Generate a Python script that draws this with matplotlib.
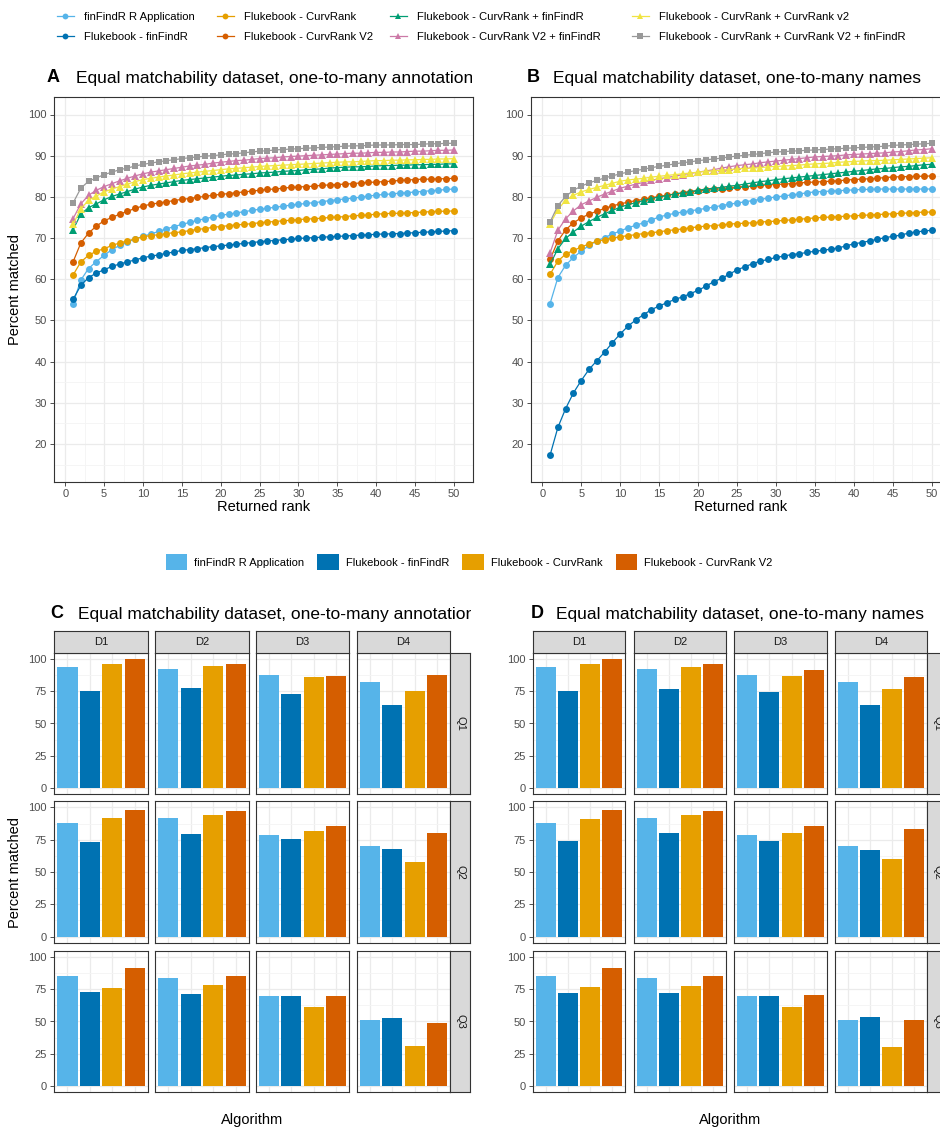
import matplotlib
matplotlib.use("Agg")
import matplotlib.pyplot as plt
from matplotlib.lines import Line2D
from matplotlib.patches import Rectangle
from matplotlib.transforms import Bbox, TransformedBbox
import numpy as np

plt.rcParams['font.family'] = ['Liberation Sans', 'DejaVu Sans']

# ---------------- data ----------------
series_names = ["finFindR R Application", "Flukebook - finFindR",
                "Flukebook - CurvRank", "Flukebook - CurvRank V2",
                "Flukebook - CurvRank + finFindR", "Flukebook - CurvRank V2 + finFindR",
                "Flukebook - CurvRank + CurvRank v2", "Flukebook - CurvRank + CurvRank V2 + finFindR"]
series_colors = ["#56B4E9", "#0072B2", "#E69F00", "#D55E00",
                 "#009E73", "#CC79A7", "#F0E442", "#999999"]
series_markers = ["o", "o", "o", "o", "^", "^", "^", "s"]

ranks = list(range(1, 51))

# Panel A: one-to-many annotations
a_finfindr_app = [54.1, 59.8, 62.6, 64.3, 65.8, 67.2, 68.2, 69.0, 69.8, 70.4, 71.0, 71.6, 72.2, 72.8, 73.3, 73.8, 74.3, 74.7, 75.1, 75.5,
                  75.8, 76.1, 76.4, 76.7, 77.0, 77.2, 77.5, 77.7, 78.0, 78.2, 78.4, 78.6, 78.8, 79.1, 79.3, 79.5, 79.7, 79.9, 80.2, 80.4,
                  80.6, 80.7, 80.9, 81.0, 81.2, 81.3, 81.5, 81.6, 81.8, 81.9]
a_fb_finfindr = [55.1, 58.5, 60.4, 61.5, 62.3, 63.1, 63.7, 64.2, 64.7, 65.2, 65.6, 65.9, 66.3, 66.6, 67.0, 67.2, 67.4, 67.7, 67.9, 68.1,
                 68.3, 68.5, 68.7, 68.9, 69.1, 69.3, 69.4, 69.6, 69.7, 69.9, 70.0, 70.1, 70.2, 70.3, 70.4, 70.5, 70.6, 70.7, 70.8, 70.9,
                 71.0, 71.0, 71.1, 71.2, 71.3, 71.4, 71.5, 71.6, 71.7, 71.8]
a_cr = [61.0, 64.2, 65.8, 66.8, 67.4, 68.2, 68.8, 69.3, 69.8, 70.3, 70.6, 70.8, 71.1, 71.3, 71.5, 71.8, 72.1, 72.3, 72.6, 72.8,
        73.0, 73.2, 73.3, 73.5, 73.7, 73.9, 74.0, 74.2, 74.3, 74.5, 74.6, 74.7, 74.8, 75.0, 75.1, 75.2, 75.4, 75.5, 75.6, 75.8,
        75.9, 76.0, 76.0, 76.1, 76.2, 76.3, 76.4, 76.5, 76.5, 76.6]
a_crv2 = [64.2, 68.8, 71.2, 72.9, 74.2, 75.0, 75.8, 76.5, 77.2, 77.8, 78.2, 78.5, 78.8, 79.1, 79.4, 79.6, 79.9, 80.1, 80.4, 80.6,
          80.8, 81.0, 81.2, 81.4, 81.6, 81.8, 81.9, 82.1, 82.3, 82.4, 82.5, 82.6, 82.8, 82.9, 83.0, 83.1, 83.2, 83.4, 83.5, 83.6,
          83.7, 83.8, 84.0, 84.1, 84.2, 84.3, 84.3, 84.4, 84.4, 84.5]
a_cr_ff = [72.0, 75.8, 77.4, 78.3, 79.3, 80.1, 80.7, 81.3, 81.9, 82.4, 82.8, 83.1, 83.4, 83.7, 84.0, 84.2, 84.4, 84.6, 84.8, 85.0,
           85.2, 85.3, 85.5, 85.6, 85.8, 85.9, 86.0, 86.2, 86.3, 86.4, 86.6, 86.7, 86.8, 87.0, 87.1, 87.2, 87.3, 87.3, 87.4, 87.5,
           87.6, 87.6, 87.7, 87.7, 87.8, 87.8, 87.9, 87.9, 88.0, 88.0]
a_crv2_ff = [74.7, 78.3, 80.4, 81.6, 82.5, 83.2, 83.9, 84.5, 85.1, 85.6, 86.0, 86.3, 86.6, 86.9, 87.2, 87.5, 87.7, 87.9, 88.2, 88.4,
             88.6, 88.8, 88.9, 89.1, 89.3, 89.4, 89.5, 89.7, 89.8, 89.9, 90.0, 90.1, 90.2, 90.3, 90.4, 90.5, 90.6, 90.6, 90.7, 90.8,
             90.8, 90.9, 90.9, 91.0, 91.1, 91.1, 91.2, 91.3, 91.3, 91.4]
a_cr_crv2 = [73.3, 77.1, 79.2, 80.2, 81.2, 81.9, 82.5, 83.1, 83.7, 84.2, 84.5, 84.8, 85.1, 85.3, 85.6, 85.8, 86.0, 86.2, 86.4, 86.6,
             86.8, 86.9, 87.1, 87.2, 87.4, 87.5, 87.6, 87.7, 87.8, 87.9, 88.0, 88.1, 88.2, 88.3, 88.4, 88.5, 88.5, 88.6, 88.7, 88.8,
             88.8, 88.9, 88.9, 89.0, 89.0, 89.1, 89.1, 89.2, 89.2, 89.3]
a_all = [78.5, 82.1, 83.8, 84.6, 85.4, 86.0, 86.6, 87.0, 87.5, 87.9, 88.2, 88.5, 88.8, 89.0, 89.3, 89.5, 89.7, 89.9, 90.0, 90.2,
         90.4, 90.5, 90.7, 90.9, 91.1, 91.2, 91.4, 91.5, 91.6, 91.7, 91.8, 91.9, 92.0, 92.1, 92.2, 92.3, 92.4, 92.4, 92.5, 92.6,
         92.6, 92.6, 92.7, 92.7, 92.7, 92.8, 92.9, 92.9, 93.0, 93.0]

# Panel B: one-to-many names
b_finfindr_app = [54.1, 60.4, 63.4, 65.3, 66.8, 68.2, 69.3, 70.1, 71.0, 71.7, 72.5, 73.1, 73.7, 74.4, 75.1, 75.6, 76.0, 76.3, 76.6, 76.9,
                  77.2, 77.5, 77.9, 78.2, 78.5, 78.8, 79.1, 79.4, 79.7, 80.0, 80.2, 80.5, 80.7, 81.0, 81.2, 81.3, 81.4, 81.5, 81.6, 81.7,
                  81.8, 81.8, 81.9, 81.9, 81.9, 81.9, 81.9, 81.9, 81.9, 81.9]
b_fb_finfindr = [17.3, 24.0, 28.6, 32.4, 35.4, 38.1, 40.2, 42.3, 44.6, 46.7, 48.6, 50.1, 51.4, 52.6, 53.5, 54.3, 55.1, 55.7, 56.5, 57.3,
                 58.3, 59.4, 60.2, 61.2, 62.3, 63.0, 63.8, 64.4, 64.8, 65.3, 65.6, 66.0, 66.2, 66.5, 66.8, 67.0, 67.3, 67.6, 68.1, 68.6,
                 68.9, 69.3, 69.7, 70.1, 70.4, 70.7, 71.2, 71.5, 71.7, 71.9]
b_cr = [61.2, 64.4, 66.1, 67.0, 67.8, 68.6, 69.2, 69.6, 70.0, 70.3, 70.6, 70.8, 71.1, 71.3, 71.5, 71.8, 72.0, 72.2, 72.5, 72.7,
        72.9, 73.0, 73.2, 73.4, 73.5, 73.6, 73.7, 73.9, 74.0, 74.1, 74.3, 74.4, 74.6, 74.7, 74.9, 75.0, 75.1, 75.2, 75.3, 75.4,
        75.5, 75.6, 75.7, 75.8, 75.9, 76.0, 76.1, 76.2, 76.3, 76.3]
b_crv2 = [64.8, 69.3, 72.0, 73.7, 74.9, 75.8, 76.5, 77.2, 77.8, 78.3, 78.7, 79.1, 79.4, 79.8, 80.1, 80.4, 80.7, 80.9, 81.2, 81.4,
          81.6, 81.8, 82.0, 82.2, 82.4, 82.5, 82.6, 82.8, 82.9, 83.0, 83.1, 83.2, 83.4, 83.5, 83.6, 83.7, 83.8, 83.9, 84.1, 84.2,
          84.3, 84.4, 84.5, 84.7, 84.8, 84.9, 84.9, 85.0, 85.0, 85.1]
b_cr_ff = [63.6, 67.4, 69.9, 71.5, 72.9, 74.0, 75.0, 75.9, 76.7, 77.5, 78.1, 78.6, 79.1, 79.6, 80.0, 80.3, 80.7, 81.0, 81.3, 81.6,
           81.9, 82.1, 82.3, 82.6, 82.8, 83.1, 83.4, 83.7, 83.9, 84.2, 84.4, 84.6, 84.8, 85.0, 85.2, 85.4, 85.6, 85.8, 86.0, 86.2,
           86.4, 86.6, 86.8, 86.9, 87.1, 87.3, 87.4, 87.6, 87.8, 87.9]
b_crv2_ff = [66.4, 71.9, 74.7, 76.6, 78.1, 79.0, 79.9, 80.7, 81.4, 82.1, 82.6, 83.1, 83.5, 84.0, 84.4, 84.7, 85.0, 85.4, 85.7, 86.0,
             86.3, 86.6, 87.0, 87.3, 87.6, 87.8, 88.0, 88.3, 88.5, 88.7, 88.9, 89.1, 89.3, 89.5, 89.7, 89.8, 89.9, 90.0, 90.2, 90.3,
             90.4, 90.5, 90.6, 90.7, 90.9, 91.0, 91.2, 91.4, 91.5, 91.7]
b_cr_crv2 = [73.5, 76.9, 79.2, 80.4, 81.2, 81.8, 82.3, 82.8, 83.3, 83.8, 84.1, 84.3, 84.5, 84.8, 85.0, 85.2, 85.4, 85.6, 85.8, 86.0,
             86.2, 86.3, 86.5, 86.6, 86.8, 86.9, 87.0, 87.1, 87.3, 87.4, 87.5, 87.6, 87.7, 87.9, 88.0, 88.1, 88.2, 88.4, 88.5, 88.6,
             88.7, 88.8, 88.8, 88.9, 89.0, 89.1, 89.2, 89.3, 89.4, 89.5]
b_all = [73.9, 77.9, 80.1, 81.6, 82.6, 83.4, 84.0, 84.6, 85.1, 85.6, 86.0, 86.4, 86.7, 87.1, 87.4, 87.7, 88.0, 88.3, 88.5, 88.8,
         89.0, 89.2, 89.4, 89.7, 89.9, 90.1, 90.3, 90.5, 90.7, 90.9, 91.0, 91.1, 91.2, 91.3, 91.4, 91.5, 91.6, 91.7, 91.8, 91.9,
         92.0, 92.1, 92.2, 92.3, 92.5, 92.6, 92.7, 92.8, 92.9, 93.0]

# Bar panels: algorithms, facets
algorithms = ["finFindR R Application", "Flukebook - finFindR", "Flukebook - CurvRank", "Flukebook - CurvRank V2"]
algo_colors = ["#56B4E9", "#0072B2", "#E69F00", "#D55E00"]
d_levels = ["D1", "D2", "D3", "D4"]
q_levels = ["Q1", "Q2", "Q3"]

# Panel C (annotations): rows Q1..Q3, columns D1..D4, each 4 algorithms
c_q1 = [[94.3, 75.6, 96.4, 100.0], [92.7, 77.7, 95.1, 96.4], [87.8, 73.2, 86.2, 87.0], [82.6, 64.7, 75.3, 87.8]]
c_q2 = [[88.1, 73.5, 91.7, 98.2], [92.2, 79.2, 94.3, 96.9], [78.4, 75.6, 81.6, 85.7], [69.9, 67.5, 57.7, 80.0]]
c_q3 = [[85.8, 72.8, 76.4, 91.7], [84.2, 71.2, 78.2, 85.2], [69.9, 69.9, 61.4, 69.9], [50.8, 53.1, 30.8, 49.0]]
# Panel D (names)
d_q1 = [[94.3, 75.6, 96.4, 100.0], [92.7, 77.1, 94.3, 96.4], [87.8, 74.8, 87.0, 91.4], [82.6, 64.7, 76.9, 86.2]]
d_q2 = [[88.1, 74.3, 90.9, 98.2], [92.2, 80.0, 94.3, 96.9], [78.4, 74.3, 80.0, 85.7], [69.9, 66.8, 59.7, 83.1]]
d_q3 = [[85.8, 72.0, 77.2, 91.7], [84.2, 72.0, 77.7, 85.2], [69.9, 69.9, 61.1, 70.7], [50.8, 53.4, 30.1, 50.8]]

# ---------------- layout helpers ----------------
W, H = 940, 1129
fig = plt.figure(figsize=(W / 100, H / 100), dpi=100)


def fbox(x0, y0, x1, y1):
    return [x0 / W, 1 - y1 / H, (x1 - x0) / W, (y1 - y0) / H]


GRID_MAJ = "#EBEBEB"
GRID_MIN = "#F4F4F4"
BORDER = "#333333"
TICKC = "#4D4D4D"


def style_axes(ax):
    ax.set_facecolor("white")
    for s in ax.spines.values():
        s.set_color(BORDER)
        s.set_linewidth(0.8)
    ax.set_axisbelow(True)
    ax.tick_params(axis="both", colors=BORDER, labelcolor=TICKC, labelsize=8, length=3, width=0.6, pad=2)


def panel_title(letter, text, x_letter, x_text, y, clip_x=None):
    fig.text(x_letter / W, 1 - y / H, letter, fontsize=13, fontweight="bold", va="center", ha="left")
    t2 = fig.text(x_text / W, 1 - y / H, text, fontsize=12.5, va="center", ha="left")
    if clip_x is not None:
        bb = TransformedBbox(Bbox.from_extents(0, 0, clip_x / W, 1), fig.transFigure)
        t2.set_clip_on(True)
        t2.set_clip_box(bb)


def line_panel(box, data):
    ax = fig.add_axes(fbox(*box))
    style_axes(ax)
    for vals, col, mk in zip(data, series_colors, series_markers):
        ms = 5.0 if mk == "o" else (5.8 if mk == "^" else 5.0)
        ax.plot(ranks, vals, color=col, marker=mk, ms=ms, lw=0.9, markeredgewidth=0)
    ax.set_xlim(1 - 2.45, 50 + 2.45)
    ax.set_ylim(10.75, 104.25)
    ax.set_xticks(range(0, 51, 5))
    ax.set_xticks(np.arange(2.5, 51, 5), minor=True)
    ax.set_yticks(range(20, 101, 10))
    ax.set_yticks(np.arange(15, 105, 10), minor=True)
    ax.tick_params(which="minor", length=0)
    ax.grid(True, which="major", color=GRID_MAJ, lw=0.9)
    ax.grid(True, which="minor", color=GRID_MIN, lw=0.6)
    ax.set_xlabel("Returned rank", fontsize=10.5, labelpad=1)
    return ax


# ---------------- top legend (4 columns of 2 entries) ----------------
handles = [Line2D([0], [0], color=c, marker=m, ms=4.2, lw=0.9, markeredgewidth=0)
           for c, m in zip(series_colors, series_markers)]
legend_col_x = [57, 217, 390, 632]
for ci, lx in enumerate(legend_col_x):
    fig.legend(handles[2 * ci:2 * ci + 2], series_names[2 * ci:2 * ci + 2],
               loc="center left", bbox_to_anchor=(lx / W, 1 - 27 / H),
               frameon=False, fontsize=8.1, handlelength=1.5, handletextpad=0.9,
               labelspacing=0.95, borderpad=0, borderaxespad=0)

# ---------------- panels A and B ----------------
axA = line_panel((54, 97, 473, 482), [a_finfindr_app, a_fb_finfindr, a_cr, a_crv2, a_cr_ff, a_crv2_ff, a_cr_crv2, a_all])
axA.set_ylabel("Percent matched", fontsize=10.5, labelpad=5)
axB = line_panel((531, 97, 951, 482), [b_finfindr_app, b_fb_finfindr, b_cr, b_crv2, b_cr_ff, b_crv2_ff, b_cr_crv2, b_all])

panel_title("A", "Equal matchability dataset, one-to-many annotations", 47, 76, 78, clip_x=472)
panel_title("B", "Equal matchability dataset, one-to-many names", 527, 553, 78)

# ---------------- middle legend ----------------
patches = [Rectangle((0, 0), 1, 1, facecolor=c, edgecolor="none") for c in algo_colors]
fig.legend(patches, algorithms, loc="center", bbox_to_anchor=(469 / W, 1 - 562 / H), ncol=4,
           frameon=False, fontsize=8.0, handlelength=1.95, handleheight=1.8, handletextpad=0.6,
           columnspacing=1.2)

# ---------------- bar panels ----------------
rows_px = [(653, 794), (801, 943), (951, 1092)]
STRIP_TOP = (631, 653)


def bar_grid(cols_px, strip_x, grid_vals, show_ylabel):
    for r, (y0, y1) in enumerate(rows_px):
        for c, (x0, x1) in enumerate(cols_px):
            ax = fig.add_axes(fbox(x0, y0, x1, y1))
            style_axes(ax)
            ax.bar(range(1, 5), grid_vals[r][c], width=0.9, color=algo_colors, zorder=2)
            ax.set_xlim(0.4, 4.6)
            ax.set_ylim(-5, 105)
            ax.set_xticks(range(1, 5))
            ax.set_yticks([0, 25, 50, 75, 100])
            ax.set_yticks([12.5, 37.5, 62.5, 87.5], minor=True)
            ax.tick_params(which="minor", length=0)
            ax.tick_params(axis="x", length=0, labelbottom=False)
            ax.grid(True, which="major", color=GRID_MAJ, lw=0.9)
            ax.grid(True, which="minor", axis="y", color=GRID_MIN, lw=0.6)
            if c != 0:
                ax.tick_params(axis="y", length=0, labelleft=False)
            if c == 0 and r == 1 and show_ylabel:
                ax.set_ylabel("Percent matched", fontsize=10.5, labelpad=5)
        # right strip
        sax = fig.add_axes(fbox(strip_x[0], y0, strip_x[1], y1))
        sax.set_facecolor("#D9D9D9")
        sax.set_xticks([]); sax.set_yticks([])
        for s in sax.spines.values():
            s.set_color(BORDER); s.set_linewidth(0.8)
        sax.text(0.5, 0.5, q_levels[r], rotation=-90, ha="center", va="center",
                 fontsize=8, color="#1A1A1A", transform=sax.transAxes)
    for c, (x0, x1) in enumerate(cols_px):
        sax = fig.add_axes(fbox(x0, STRIP_TOP[0], x1, STRIP_TOP[1]))
        sax.set_facecolor("#D9D9D9")
        sax.set_xticks([]); sax.set_yticks([])
        for s in sax.spines.values():
            s.set_color(BORDER); s.set_linewidth(0.8)
        sax.text(0.5, 0.5, d_levels[c], ha="center", va="center", fontsize=8,
                 color="#1A1A1A", transform=sax.transAxes)


c_cols = [(54, 148), (155, 249), (256, 349), (357, 450)]
d_cols = [(533, 625), (634, 726), (734, 827), (835, 927)]
bar_grid(c_cols, (450, 470), [c_q1, c_q2, c_q3], True)
bar_grid(d_cols, (927, 948), [d_q1, d_q2, d_q3], False)

fig.text(252 / W, 1 - 1120 / H, "Algorithm", fontsize=10.5, ha="center", va="center")
fig.text(730 / W, 1 - 1120 / H, "Algorithm", fontsize=10.5, ha="center", va="center")

panel_title("C", "Equal matchability dataset, one-to-many annotations", 50, 78, 614, clip_x=471)
panel_title("D", "Equal matchability dataset, one-to-many names", 531, 556, 614)

fig.savefig("out.png", dpi=100, facecolor="white")
